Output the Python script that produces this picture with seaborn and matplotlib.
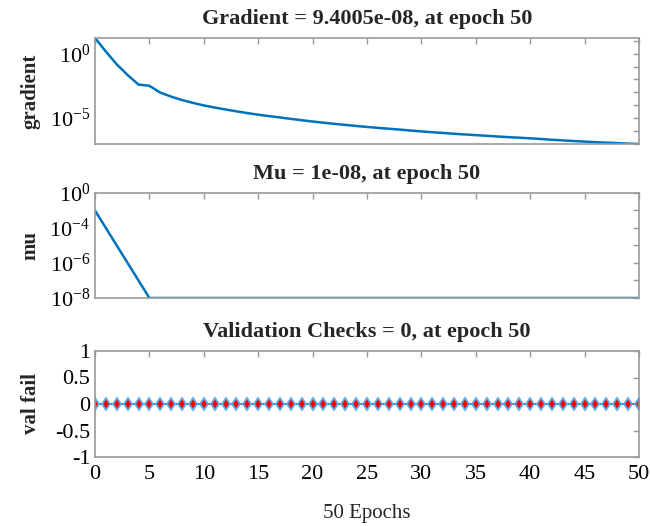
import numpy as np
import pandas as pd
import matplotlib
matplotlib.use("Agg")
import matplotlib.pyplot as plt
import seaborn as sns

# ---- data ----
epochs = list(range(0, 51))
gradient = [1.7e1, 1.5e0, 1.5e-1, 2.2e-2, 4.0e-3, 3.2e-3, 9.5e-4, 4.6e-4, 2.5e-4, 1.5e-4,
            9.5e-5, 6.5e-5, 4.6e-5, 3.3e-5, 2.4e-5, 1.8e-5, 1.4e-5, 1.1e-5, 8.5e-6, 6.7e-6,
            5.3e-6, 4.3e-6, 3.5e-6, 2.9e-6, 2.4e-6, 2.0e-6, 1.7e-6, 1.45e-6, 1.25e-6, 1.05e-6,
            9.0e-7, 7.8e-7, 6.8e-7, 5.9e-7, 5.2e-7, 4.6e-7, 4.1e-7, 3.6e-7, 3.2e-7, 2.9e-7,
            2.6e-7, 2.3e-7, 2.0e-7, 1.8e-7, 1.6e-7, 1.45e-7, 1.3e-7, 1.2e-7, 1.1e-7, 1.0e-7,
            9.4005e-8]
mu = [1e-3, 1e-4, 1e-5, 1e-6, 1e-7] + [1e-8] * 46
val_fail = [0] * 51

titles = ["Gradient = 9.4005e-08, at epoch 50",
          "Mu = 1e-08, at epoch 50",
          "Validation Checks = 0, at epoch 50"]
ylabels = ["gradient", "mu", "val fail"]
xlabel = "50 Epochs"
xticks = list(range(0, 51, 5))
grad_ticks = [1e-7, 1e-6, 1e-5, 1e-4, 1e-3, 1e-2, 1e-1, 1e0, 1e1]
grad_ticklabels = ["", "", r"$10^{-5}$", "", "", "", "", r"$10^{0}$", ""]
mu_ticks = [1e-8, 1e-7, 1e-6, 1e-5, 1e-4, 1e-3, 1e-2]
mu_ticklabels = [r"$10^{-8}$", "", r"$10^{-6}$", "", r"$10^{-4}$", "", r"$10^{0}$"]
val_ticks = [-1, -0.5, 0, 0.5, 1]
val_ticklabels = ["-1", "-0.5", "0", "0.5", "1"]

df = pd.DataFrame({"epoch": epochs, "gradient": gradient, "mu": mu, "val": val_fail})

# ---- style ----
sns.set_style("white")
plt.rcParams["font.family"] = ["Liberation Serif", "DejaVu Serif"]
plt.rcParams["mathtext.fontset"] = "custom"
plt.rcParams["mathtext.rm"] = "Liberation Serif"
plt.rcParams["mathtext.it"] = "Liberation Serif:italic"
plt.rcParams["mathtext.bf"] = "Liberation Serif:bold"

W, H = 650, 526
fig = plt.figure(figsize=(W / 100, H / 100), dpi=100)

def frac(l, t, r, b):
    return [l / W, 1 - b / H, (r - l) / W, (b - t) / H]

ax1 = fig.add_axes(frac(95, 38, 639, 144))
ax2 = fig.add_axes(frac(95, 193, 639, 298))
ax3 = fig.add_axes(frac(95, 351, 639, 457))

blue = "#0072BD"
spine_col = "#999999"

sns.lineplot(data=df, x="epoch", y="gradient", ax=ax1, color=blue, linewidth=1.8)
ax1.set_yscale("log")
ax1.set_ylim(min(gradient), max(gradient))
ax1.set_yticks(grad_ticks)
ax1.set_yticklabels(grad_ticklabels)
ax1.minorticks_off()

sns.lineplot(data=df, x="epoch", y="mu", ax=ax2, color=blue, linewidth=1.8)
ax2.set_yscale("log")
ax2.set_ylim(1e-8, 1e-2)
ax2.set_yticks(mu_ticks)
ax2.set_yticklabels(mu_ticklabels)
ax2.minorticks_off()

sns.lineplot(data=df, x="epoch", y="val", ax=ax3, color=blue, linewidth=1.2,
             marker="d", markersize=6.5, markerfacecolor="#FF0000",
             markeredgecolor="#5AAEEA", markeredgewidth=1.3)
ax3.set_ylim(-1, 1)
ax3.set_yticks(val_ticks)
ax3.set_yticklabels(val_ticklabels)

for ax, title, yl in zip([ax1, ax2, ax3], titles, ylabels):
    ax.set_xlim(0, 50)
    ax.set_xticks(xticks)
    ax.set_title(title, fontsize=16, fontweight="bold", pad=10)
    ax.set_ylabel(yl, fontsize=15, fontweight="bold")
    ax.yaxis.set_label_coords(-0.10, 0.5)
    ax.set_xlabel("")
    for s in ax.spines.values():
        s.set_visible(True)
        s.set_color(spine_col)
        s.set_linewidth(1.2)
    ax.tick_params(axis="both", which="both", direction="in", length=4, width=1,
                   color=spine_col, top=True, right=True, labelsize=16,
                   labelcolor="black")
    ax.set_facecolor("white")

ax1.tick_params(axis="x", labelbottom=False)
ax2.tick_params(axis="x", labelbottom=False)
ax3.tick_params(axis="x", pad=6)
ax3.set_xlabel(xlabel, fontsize=15, labelpad=14)

fig.savefig("out.png", dpi=100, facecolor="white")
